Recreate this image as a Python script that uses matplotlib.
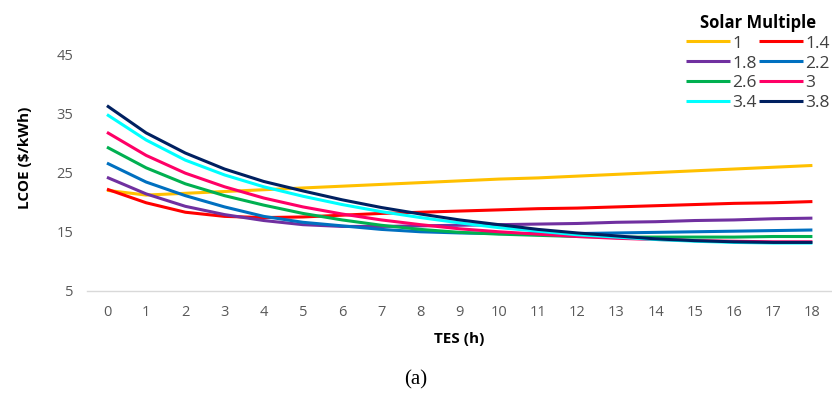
import matplotlib.pyplot as plt

# TES hours on the x axis
tes = list(range(19))

sm_labels = ["1", "1.4", "1.8", "2.2", "2.6", "3", "3.4", "3.8"]
sm_colors = ["#FFC000", "#FF0000", "#7030A0", "#0070C0", "#00B050", "#FF0066", "#00FFFF", "#002060"]

# LCOE ($/kWh) for each solar multiple
lcoe_1 = [22.0, 21.2, 21.5, 21.8, 22.1, 22.4, 22.7, 23.0, 23.3, 23.6, 23.9, 24.1, 24.4, 24.7, 25.0, 25.3, 25.6, 25.9, 26.2]
lcoe_14 = [22.2, 19.9, 18.3, 17.6, 17.4, 17.5, 17.8, 18.1, 18.3, 18.5, 18.7, 18.9, 19.0, 19.2, 19.4, 19.6, 19.8, 19.9, 20.1]
lcoe_18 = [24.2, 21.4, 19.3, 17.9, 16.9, 16.2, 15.9, 15.9, 16.0, 16.1, 16.2, 16.3, 16.4, 16.6, 16.7, 16.9, 17.0, 17.2, 17.3]
lcoe_22 = [26.6, 23.4, 21.1, 19.2, 17.6, 16.6, 16.0, 15.4, 15.0, 14.8, 14.7, 14.7, 14.7, 14.8, 14.9, 15.0, 15.1, 15.2, 15.3]
lcoe_26 = [29.3, 25.8, 23.1, 21.1, 19.5, 18.1, 17.0, 16.1, 15.4, 14.9, 14.6, 14.4, 14.2, 14.1, 14.1, 14.1, 14.1, 14.2, 14.2]
lcoe_3 = [31.8, 27.9, 24.9, 22.6, 20.7, 19.2, 18.0, 17.0, 16.2, 15.5, 15.0, 14.6, 14.2, 13.9, 13.7, 13.5, 13.4, 13.3, 13.3]
lcoe_34 = [34.8, 30.5, 27.1, 24.6, 22.6, 21.0, 19.6, 18.4, 17.4, 16.5, 15.7, 15.1, 14.5, 14.1, 13.7, 13.4, 13.2, 13.1, 13.1]
lcoe_38 = [36.3, 31.7, 28.3, 25.6, 23.5, 21.9, 20.4, 19.1, 18.0, 17.0, 16.2, 15.4, 14.8, 14.3, 13.8, 13.5, 13.3, 13.2, 13.2]

series = [lcoe_1, lcoe_14, lcoe_18, lcoe_22, lcoe_26, lcoe_3, lcoe_34, lcoe_38]

plt.rcParams['font.family'] = ['Open Sans', 'DejaVu Sans']

fig = plt.figure(figsize=(8.32, 4.03), dpi=100)
ax = fig.add_axes([0.105, 0.278, 0.895, 0.661])

lines = []
for vals, lab, col in zip(series, sm_labels, sm_colors):
    ln, = ax.plot(tes, vals, color=col, lw=2.2, label=lab, solid_capstyle='butt')
    lines.append(ln)

ax.set_xlim(-0.5, 18.5)
ax.set_ylim(5, 50)
ax.set_xticks(tes)
ax.set_yticks([5, 15, 25, 35, 45])
ax.tick_params(length=0, labelsize=10.5, labelcolor="#595959", pad=10)

for s in ["top", "right", "left"]:
    ax.spines[s].set_visible(False)
ax.spines["bottom"].set_color("#D9D9D9")
ax.spines["bottom"].set_linewidth(1)

ax.set_ylabel("LCOE ($/kWh)", fontsize=11, fontweight="bold", labelpad=18)
ax.set_xlabel("TES (h)", fontsize=11, fontweight="bold", labelpad=9)

# legend is filled row by row in the reference: reorder for column-major fill
order = [0, 2, 4, 6, 1, 3, 5, 7]
leg = ax.legend([lines[i] for i in order], [sm_labels[i] for i in order],
                ncol=2, loc="upper right", bbox_to_anchor=(1.018, 1.10),
                frameon=False, handlelength=2.5, columnspacing=0.15,
                handletextpad=0.15, labelspacing=0.22, fontsize=12.5,
                title="Solar Multiple",
                title_fontproperties={"weight": "bold", "size": 12})
for t in leg.get_texts():
    t.set_color("#404040")

fig.text(0.5, 0.057, "(a)", ha="center", va="center", fontsize=15,
         family="Liberation Serif")

fig.savefig("out.png", dpi=100)
